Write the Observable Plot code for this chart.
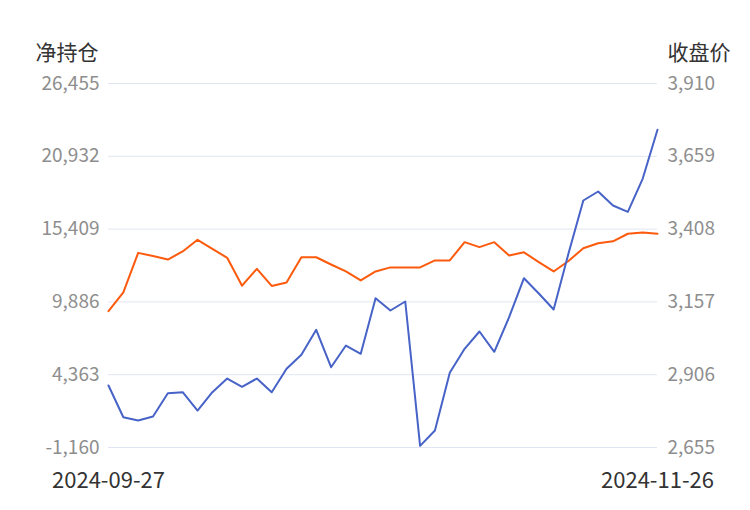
<!DOCTYPE html>
<html>
<head>
<meta charset="utf-8">
<script src="https://cdn.jsdelivr.net/npm/d3@7"></script>
<script src="https://cdn.jsdelivr.net/npm/@observablehq/plot@0.6"></script>
<style>
  body { margin: 0; background: #fff; }
  #chart svg { display: block; }
</style>
</head>
<body>
<div id="chart"></div>
<script>
const dates = [
  "2024-09-27","2024-09-30","2024-10-08","2024-10-09","2024-10-10","2024-10-11",
  "2024-10-14","2024-10-15","2024-10-16","2024-10-17","2024-10-18",
  "2024-10-21","2024-10-22","2024-10-23","2024-10-24","2024-10-25",
  "2024-10-28","2024-10-29","2024-10-30","2024-10-31","2024-11-01",
  "2024-11-04","2024-11-05","2024-11-06","2024-11-07","2024-11-08",
  "2024-11-11","2024-11-12","2024-11-13","2024-11-14","2024-11-15",
  "2024-11-18","2024-11-19","2024-11-20","2024-11-21","2024-11-22",
  "2024-11-25","2024-11-26"
];
const netPosition = [
  3543, 1137, 887, 1190, 2958, 3034, 1646, 3034, 4073, 3444, 4073,
  3034, 4809, 5871, 7768, 4931, 6577, 5947, 10166, 9233, 9915,
  -1033, 128, 4506, 6327, 7639, 6099, 8724, 11683, 10522, 9308,
  13557, 17578, 18261, 17199, 16721, 19225, 22942
];
const closePrice = [
  3125, 3190, 3326, 3315, 3303, 3331, 3371, 3340, 3309, 3213, 3271,
  3212, 3224, 3311, 3311, 3286, 3262, 3231, 3262, 3276, 3276,
  3276, 3300, 3300, 3363, 3346, 3363, 3317, 3328, 3294, 3262,
  3298, 3342, 3359, 3366, 3392, 3396, 3392
];
const leftTicks = [-1160, 4363, 9886, 15409, 20932, 26455];
const rightTicks = [2655, 2906, 3157, 3408, 3659, 3910];
const leftTitle = "净持仓";
const rightTitle = "收盘价";

const lMin = leftTicks[0], lMax = leftTicks[leftTicks.length - 1];
const rMin = rightTicks[0], rMax = rightTicks[rightTicks.length - 1];
const toLeft = p => lMin + (p - rMin) * (lMax - lMin) / (rMax - rMin);

const rows = dates.map((d, i) => ({date: d, net: netPosition[i], close: closePrice[i], closeL: toLeft(closePrice[i])}));
const fmt = v => d3.format(",")(v).replace("\u2212", "-");
const font = "'Noto Sans CJK SC', 'Noto Sans', sans-serif";

const chart = Plot.plot({
  width: 750,
  height: 510,
  marginLeft: 108,
  marginRight: 93,
  marginTop: 83,
  marginBottom: 63,
  style: {fontFamily: font, background: "#fff"},
  x: {type: "point", domain: dates, padding: 0},
  y: {domain: [lMin, lMax]},
  marks: [
    Plot.gridY(leftTicks, {stroke: "#e0e6f1", strokeOpacity: 1, strokeWidth: 1}),
    Plot.axisY(leftTicks, {anchor: "left", tickSize: 0, tickPadding: 9, tickFormat: fmt,
      fontSize: 19, color: "#8e8e8e", label: null}),
    Plot.axisY(leftTicks, {anchor: "right", tickSize: 0, tickPadding: 10,
      tickFormat: (d, i) => fmt(rightTicks[i]), fontSize: 19, color: "#8e8e8e", label: null}),
    Plot.axisX([dates[0], dates[dates.length - 1]], {tickSize: 0, tickPadding: 25,
      fontSize: 22, color: "#333", label: null}),
    Plot.line(rows, {x: "date", y: "closeL", stroke: "#fc5a0c", strokeWidth: 2}),
    Plot.line(rows, {x: "date", y: "net", stroke: "#4763c7", strokeWidth: 2}),
    Plot.text([leftTitle], {frameAnchor: "top-left", dx: -73, dy: -38, textAnchor: "start",
      fontSize: 21, fill: "#333"}),
    Plot.text([rightTitle], {frameAnchor: "top-right", dx: 10, dy: -38, textAnchor: "start",
      fontSize: 21, fill: "#333"})
  ]
});
document.getElementById("chart").append(chart);
</script>
</body>
</html>
